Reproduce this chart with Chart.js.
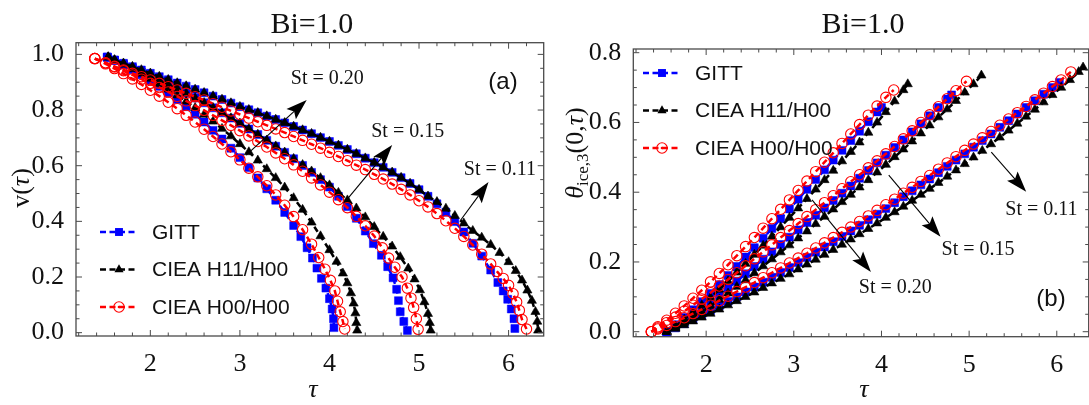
<!DOCTYPE html>
<html>
<head>
<meta charset="utf-8">
<script src="https://cdn.jsdelivr.net/npm/chart.js@4.4.1/dist/chart.umd.min.js"></script>
<style>
  html, body { margin: 0; padding: 0; background: #fff; overflow: hidden; }
  #wrap { position: relative; width: 1089px; height: 405px; overflow: hidden; }
  canvas { position: absolute; top: 0; }
  #chartA { left: 0; }
  #chartB { left: 545px; }
</style>
</head>
<body>
<div id="wrap">
  <canvas id="chartA" width="550" height="405"></canvas>
  <canvas id="chartB" width="550" height="405"></canvas>
</div>
<script>
// ---- panel (a): v(tau) ----
const a11GittTau = [1.52, 1.6, 1.7, 1.8, 1.9, 2.0, 2.1, 2.2, 2.3, 2.4, 2.5, 2.6, 2.7, 2.8, 2.9, 3.0, 3.1, 3.2, 3.3, 3.4, 3.5, 3.6, 3.7, 3.8, 3.9, 4.0, 4.1, 4.2, 4.3, 4.4, 4.5, 4.6, 4.7, 4.8, 4.9, 5.0, 5.1, 5.2, 5.3, 5.4, 5.5, 5.6, 5.7, 5.8, 5.88, 5.94, 5.99, 6.03, 6.06, 6.07];
const a11GittV = [0.990, 0.980, 0.968, 0.956, 0.944, 0.932, 0.920, 0.909, 0.897, 0.886, 0.874, 0.862, 0.850, 0.838, 0.825, 0.812, 0.801, 0.790, 0.778, 0.766, 0.754, 0.741, 0.728, 0.715, 0.701, 0.687, 0.673, 0.658, 0.643, 0.627, 0.611, 0.594, 0.576, 0.557, 0.536, 0.514, 0.490, 0.463, 0.433, 0.399, 0.362, 0.321, 0.275, 0.225, 0.180, 0.150, 0.120, 0.085, 0.050, 0.015];
const a11H11Tau = [1.53, 1.6, 1.7, 1.8, 1.9, 2.0, 2.1, 2.2, 2.3, 2.4, 2.5, 2.6, 2.7, 2.8, 2.9, 3.0, 3.1, 3.2, 3.3, 3.4, 3.5, 3.6, 3.7, 3.8, 3.9, 4.0, 4.1, 4.2, 4.3, 4.4, 4.5, 4.6, 4.7, 4.8, 4.9, 5.0, 5.1, 5.2, 5.3, 5.4, 5.5, 5.6, 5.7, 5.8, 5.9, 6.0, 6.08, 6.15, 6.21, 6.26, 6.3, 6.32, 6.33];
const a11H11V = [0.990, 0.980, 0.968, 0.956, 0.944, 0.932, 0.920, 0.909, 0.897, 0.886, 0.874, 0.862, 0.850, 0.838, 0.825, 0.812, 0.801, 0.790, 0.778, 0.766, 0.754, 0.741, 0.728, 0.715, 0.701, 0.687, 0.673, 0.658, 0.643, 0.627, 0.611, 0.594, 0.576, 0.557, 0.536, 0.514, 0.490, 0.470, 0.446, 0.420, 0.393, 0.366, 0.342, 0.316, 0.287, 0.254, 0.222, 0.188, 0.152, 0.115, 0.075, 0.040, 0.008];
const a11H00Tau = [1.38, 1.5, 1.6, 1.7, 1.8, 1.9, 2.0, 2.1, 2.2, 2.3, 2.4, 2.5, 2.6, 2.7, 2.8, 2.9, 3.0, 3.1, 3.2, 3.3, 3.4, 3.5, 3.6, 3.7, 3.8, 3.9, 4.0, 4.1, 4.2, 4.3, 4.4, 4.5, 4.6, 4.7, 4.8, 4.9, 5.0, 5.1, 5.2, 5.3, 5.4, 5.5, 5.6, 5.7, 5.8, 5.87, 5.94, 6.0, 6.05, 6.09, 6.12, 6.15, 6.2];
const a11H00V = [0.985, 0.970, 0.957, 0.944, 0.932, 0.920, 0.908, 0.896, 0.884, 0.872, 0.860, 0.848, 0.836, 0.823, 0.810, 0.797, 0.784, 0.771, 0.758, 0.745, 0.732, 0.719, 0.705, 0.691, 0.677, 0.663, 0.648, 0.633, 0.618, 0.602, 0.586, 0.569, 0.552, 0.534, 0.515, 0.495, 0.474, 0.452, 0.428, 0.402, 0.375, 0.346, 0.315, 0.282, 0.247, 0.220, 0.195, 0.170, 0.140, 0.110, 0.080, 0.047, 0.013];

const a15GittTau = [1.52, 1.6, 1.7, 1.8, 1.9, 2.0, 2.1, 2.2, 2.3, 2.4, 2.5, 2.6, 2.7, 2.8, 2.9, 3.0, 3.1, 3.2, 3.3, 3.4, 3.5, 3.6, 3.7, 3.8, 3.9, 4.0, 4.1, 4.2, 4.3, 4.4, 4.49, 4.58, 4.65, 4.71, 4.75, 4.77, 4.79, 4.83, 4.87];
const a15GittV = [0.990, 0.979, 0.965, 0.951, 0.937, 0.922, 0.907, 0.892, 0.876, 0.860, 0.843, 0.826, 0.808, 0.790, 0.771, 0.752, 0.732, 0.712, 0.691, 0.670, 0.648, 0.625, 0.601, 0.576, 0.550, 0.523, 0.490, 0.453, 0.411, 0.365, 0.320, 0.278, 0.237, 0.197, 0.156, 0.115, 0.075, 0.040, 0.008];
const a15H11Tau = [1.53, 1.6, 1.7, 1.8, 1.9, 2.0, 2.1, 2.2, 2.3, 2.4, 2.5, 2.6, 2.7, 2.8, 2.9, 3.0, 3.1, 3.2, 3.3, 3.4, 3.5, 3.6, 3.7, 3.8, 3.9, 4.0, 4.1, 4.2, 4.3, 4.4, 4.5, 4.6, 4.7, 4.79, 4.88, 4.95, 5.01, 5.06, 5.10, 5.12, 5.13];
const a15H11V = [0.990, 0.979, 0.965, 0.951, 0.937, 0.922, 0.907, 0.892, 0.876, 0.860, 0.843, 0.826, 0.808, 0.790, 0.771, 0.752, 0.732, 0.712, 0.691, 0.670, 0.648, 0.625, 0.603, 0.580, 0.556, 0.530, 0.503, 0.476, 0.447, 0.415, 0.380, 0.345, 0.310, 0.272, 0.231, 0.192, 0.153, 0.110, 0.068, 0.035, 0.008];
const a15H00Tau = [1.38, 1.5, 1.6, 1.7, 1.8, 1.9, 2.0, 2.1, 2.2, 2.3, 2.4, 2.5, 2.6, 2.7, 2.8, 2.9, 3.0, 3.1, 3.2, 3.3, 3.4, 3.5, 3.6, 3.7, 3.8, 3.9, 4.0, 4.1, 4.2, 4.3, 4.4, 4.5, 4.59, 4.66, 4.73, 4.81, 4.87, 4.91, 4.94, 4.97, 4.99];
const a15H00V = [0.985, 0.969, 0.955, 0.941, 0.926, 0.911, 0.896, 0.881, 0.865, 0.849, 0.833, 0.816, 0.799, 0.781, 0.763, 0.745, 0.726, 0.707, 0.687, 0.667, 0.646, 0.625, 0.603, 0.580, 0.556, 0.531, 0.505, 0.478, 0.449, 0.418, 0.384, 0.347, 0.305, 0.268, 0.235, 0.200, 0.160, 0.124, 0.090, 0.050, 0.012];

const a20GittTau = [1.52, 1.6, 1.7, 1.8, 1.9, 2.0, 2.1, 2.2, 2.3, 2.4, 2.5, 2.6, 2.7, 2.8, 2.9, 3.0, 3.1, 3.2, 3.3, 3.4, 3.5, 3.6, 3.68, 3.75, 3.81, 3.86, 3.91, 3.96, 4.0, 4.03, 4.045, 4.05];
const a20GittV = [0.990, 0.978, 0.962, 0.945, 0.927, 0.906, 0.885, 0.862, 0.838, 0.812, 0.785, 0.757, 0.727, 0.696, 0.663, 0.629, 0.593, 0.556, 0.517, 0.476, 0.432, 0.385, 0.345, 0.305, 0.268, 0.232, 0.195, 0.160, 0.122, 0.085, 0.050, 0.018];
const a20H11Tau = [1.53, 1.6, 1.7, 1.8, 1.9, 2.0, 2.1, 2.2, 2.3, 2.4, 2.5, 2.6, 2.7, 2.8, 2.9, 3.0, 3.1, 3.2, 3.3, 3.4, 3.5, 3.6, 3.7, 3.8, 3.9, 4.0, 4.08, 4.15, 4.2, 4.24, 4.27, 4.29, 4.3, 4.31];
const a20H11V = [0.990, 0.979, 0.964, 0.948, 0.931, 0.913, 0.894, 0.874, 0.853, 0.831, 0.808, 0.784, 0.759, 0.733, 0.706, 0.678, 0.649, 0.619, 0.588, 0.556, 0.522, 0.484, 0.442, 0.396, 0.347, 0.297, 0.255, 0.213, 0.178, 0.142, 0.105, 0.070, 0.035, 0.008];
const a20H00Tau = [1.38, 1.5, 1.6, 1.7, 1.8, 1.9, 2.0, 2.1, 2.2, 2.3, 2.4, 2.5, 2.6, 2.7, 2.8, 2.9, 3.0, 3.1, 3.2, 3.3, 3.4, 3.5, 3.6, 3.7, 3.8, 3.88, 3.95, 4.01, 4.06, 4.09, 4.12, 4.15, 4.17];
const a20H00V = [0.985, 0.966, 0.949, 0.931, 0.912, 0.892, 0.871, 0.850, 0.828, 0.805, 0.781, 0.757, 0.731, 0.705, 0.678, 0.650, 0.621, 0.591, 0.560, 0.528, 0.495, 0.458, 0.417, 0.370, 0.318, 0.270, 0.228, 0.188, 0.150, 0.113, 0.075, 0.040, 0.013];

// ---- panel (b): theta_ice,3(0,tau) ----
const b11GittTau = [1.55, 1.65, 1.75, 1.85, 1.95, 2.05, 2.15, 2.25, 2.35, 2.45, 2.55, 2.65, 2.75, 2.85, 2.95, 3.05, 3.15, 3.25, 3.35, 3.45, 3.55, 3.65, 3.75, 3.85, 3.95, 4.05, 4.15, 4.25, 4.35, 4.45, 4.55, 4.65, 4.75, 4.85, 4.95, 5.05, 5.15, 5.25, 5.35, 5.45, 5.55, 5.65, 5.75, 5.85, 5.95, 6.03];
const b11GittTheta = [0, 0.011, 0.023, 0.035, 0.048, 0.061, 0.074, 0.087, 0.100, 0.114, 0.128, 0.142, 0.156, 0.170, 0.184, 0.198, 0.213, 0.228, 0.243, 0.258, 0.273, 0.289, 0.305, 0.321, 0.337, 0.353, 0.370, 0.387, 0.404, 0.421, 0.438, 0.456, 0.474, 0.492, 0.510, 0.529, 0.548, 0.567, 0.586, 0.605, 0.624, 0.643, 0.662, 0.681, 0.700, 0.715];
const b11H11Tau = [1.55, 1.65, 1.75, 1.85, 1.95, 2.05, 2.15, 2.25, 2.35, 2.45, 2.55, 2.65, 2.75, 2.85, 2.95, 3.05, 3.15, 3.25, 3.35, 3.45, 3.55, 3.65, 3.75, 3.85, 3.95, 4.05, 4.15, 4.25, 4.35, 4.45, 4.55, 4.65, 4.75, 4.85, 4.95, 5.05, 5.15, 5.25, 5.35, 5.45, 5.55, 5.65, 5.75, 5.85, 5.95, 6.05, 6.15, 6.25, 6.30];
const b11H11Theta = [0, 0.009, 0.019, 0.030, 0.041, 0.052, 0.064, 0.076, 0.088, 0.100, 0.113, 0.126, 0.139, 0.152, 0.165, 0.179, 0.193, 0.207, 0.221, 0.235, 0.250, 0.265, 0.280, 0.295, 0.311, 0.327, 0.343, 0.359, 0.376, 0.393, 0.410, 0.427, 0.445, 0.463, 0.481, 0.500, 0.519, 0.538, 0.557, 0.577, 0.597, 0.617, 0.637, 0.658, 0.679, 0.700, 0.722, 0.745, 0.758];
const b11H00Tau = [1.375, 1.45, 1.55, 1.65, 1.75, 1.85, 1.95, 2.05, 2.15, 2.25, 2.35, 2.45, 2.55, 2.65, 2.75, 2.85, 2.95, 3.05, 3.15, 3.25, 3.35, 3.45, 3.55, 3.65, 3.75, 3.85, 3.95, 4.05, 4.15, 4.25, 4.35, 4.45, 4.55, 4.65, 4.75, 4.85, 4.95, 5.05, 5.15, 5.25, 5.35, 5.45, 5.55, 5.65, 5.75, 5.85, 5.95, 6.05, 6.16];
const b11H00Theta = [0, 0.008, 0.018, 0.029, 0.040, 0.052, 0.064, 0.076, 0.089, 0.102, 0.115, 0.128, 0.141, 0.155, 0.169, 0.183, 0.197, 0.211, 0.225, 0.240, 0.255, 0.270, 0.285, 0.300, 0.316, 0.332, 0.348, 0.364, 0.380, 0.397, 0.414, 0.431, 0.448, 0.466, 0.484, 0.502, 0.520, 0.538, 0.556, 0.574, 0.592, 0.610, 0.628, 0.646, 0.665, 0.684, 0.703, 0.722, 0.745];

const b15GittTau = [1.55, 1.65, 1.75, 1.85, 1.95, 2.05, 2.15, 2.25, 2.35, 2.45, 2.55, 2.65, 2.75, 2.85, 2.95, 3.05, 3.15, 3.25, 3.35, 3.45, 3.55, 3.65, 3.75, 3.85, 3.95, 4.05, 4.15, 4.25, 4.35, 4.45, 4.55, 4.65, 4.75, 4.80];
const b15GittTheta = [0, 0.014, 0.030, 0.047, 0.065, 0.084, 0.104, 0.124, 0.145, 0.166, 0.187, 0.208, 0.229, 0.250, 0.271, 0.292, 0.313, 0.334, 0.355, 0.376, 0.397, 0.418, 0.440, 0.462, 0.484, 0.506, 0.528, 0.550, 0.573, 0.596, 0.619, 0.643, 0.667, 0.679];
const b15H11Tau = [1.55, 1.65, 1.75, 1.85, 1.95, 2.05, 2.15, 2.25, 2.35, 2.45, 2.55, 2.65, 2.75, 2.85, 2.95, 3.05, 3.15, 3.25, 3.35, 3.45, 3.55, 3.65, 3.75, 3.85, 3.95, 4.05, 4.15, 4.25, 4.35, 4.45, 4.55, 4.65, 4.75, 4.85, 4.95, 5.05, 5.14];
const b15H11Theta = [0, 0.012, 0.026, 0.041, 0.057, 0.074, 0.092, 0.110, 0.129, 0.148, 0.168, 0.188, 0.208, 0.228, 0.248, 0.268, 0.288, 0.309, 0.330, 0.351, 0.372, 0.393, 0.414, 0.435, 0.457, 0.479, 0.501, 0.523, 0.546, 0.569, 0.592, 0.615, 0.638, 0.662, 0.686, 0.710, 0.735];
const b15H00Tau = [1.375, 1.45, 1.55, 1.65, 1.75, 1.85, 1.95, 2.05, 2.15, 2.25, 2.35, 2.45, 2.55, 2.65, 2.75, 2.85, 2.95, 3.05, 3.15, 3.25, 3.35, 3.45, 3.55, 3.65, 3.75, 3.85, 3.95, 4.05, 4.15, 4.25, 4.35, 4.45, 4.55, 4.65, 4.75, 4.85, 4.97];
const b15H00Theta = [0, 0.011, 0.026, 0.042, 0.059, 0.076, 0.094, 0.112, 0.131, 0.150, 0.169, 0.189, 0.209, 0.229, 0.249, 0.270, 0.290, 0.310, 0.330, 0.350, 0.370, 0.390, 0.410, 0.430, 0.450, 0.470, 0.490, 0.510, 0.531, 0.553, 0.576, 0.600, 0.622, 0.645, 0.668, 0.691, 0.718];

const b20GittTau = [1.55, 1.65, 1.75, 1.85, 1.95, 2.05, 2.15, 2.25, 2.35, 2.45, 2.55, 2.65, 2.75, 2.85, 2.95, 3.05, 3.15, 3.25, 3.35, 3.45, 3.55, 3.65, 3.75, 3.85, 3.95, 4.0];
const b20GittTheta = [0, 0.020, 0.041, 0.063, 0.086, 0.110, 0.135, 0.161, 0.187, 0.214, 0.241, 0.268, 0.296, 0.324, 0.352, 0.380, 0.408, 0.436, 0.464, 0.492, 0.520, 0.548, 0.575, 0.602, 0.630, 0.643];
const b20H11Tau = [1.55, 1.65, 1.75, 1.85, 1.95, 2.05, 2.15, 2.25, 2.35, 2.45, 2.55, 2.65, 2.75, 2.85, 2.95, 3.05, 3.15, 3.25, 3.35, 3.45, 3.55, 3.65, 3.75, 3.85, 3.95, 4.05, 4.15, 4.25, 4.30];
const b20H11Theta = [0, 0.016, 0.035, 0.055, 0.076, 0.098, 0.121, 0.145, 0.170, 0.195, 0.221, 0.247, 0.273, 0.300, 0.327, 0.354, 0.381, 0.408, 0.435, 0.462, 0.489, 0.516, 0.543, 0.571, 0.600, 0.630, 0.661, 0.693, 0.710];
const b20H00Tau = [1.375, 1.45, 1.55, 1.65, 1.75, 1.85, 1.95, 2.05, 2.15, 2.25, 2.35, 2.45, 2.55, 2.65, 2.75, 2.85, 2.95, 3.05, 3.15, 3.25, 3.35, 3.45, 3.55, 3.65, 3.75, 3.85, 3.95, 4.05, 4.14];
const b20H00Theta = [0, 0.014, 0.033, 0.053, 0.074, 0.096, 0.119, 0.143, 0.167, 0.192, 0.218, 0.244, 0.270, 0.297, 0.324, 0.351, 0.378, 0.405, 0.432, 0.459, 0.486, 0.513, 0.540, 0.567, 0.594, 0.621, 0.647, 0.672, 0.693];

// tick labels and annotations
const xTicks = [2, 3, 4, 5, 6];
const yTicksA = [0, 0.2, 0.4, 0.6, 0.8, 1.0];
const yTicksB = [0, 0.2, 0.4, 0.6, 0.8];
const methodLabels = ['GITT', 'CIEA H11/H00', 'CIEA H00/H00'];
const stLabels = ['St = 0.20', 'St = 0.15', 'St = 0.11'];
const aArrowTail = [[3.07, 0.638], [4.19, 0.476], [5.466, 0.405]];
const aArrowHead = [[3.746, 0.836], [4.70, 0.674], [5.776, 0.541]];
const aLabelAt = [[3.568, 0.912], [4.466, 0.721], [5.50, 0.585]];
const bArrowTail = [[3.208, 0.378], [4.083, 0.449], [5.253, 0.515]];
const bArrowHead = [[3.88, 0.171], [4.674, 0.272], [5.651, 0.401]];
const bLabelAt = [[3.742, 0.125], [4.686, 0.234], [5.413, 0.349]];

const SERIF = '"Liberation Serif", "Times New Roman", serif';
const SANS = '"Liberation Sans", Arial, sans-serif';
const BLUE = '#0000ff', RED = '#ff0000', BLACK = '#000000';

const kinds = {
  gitt: { color: BLUE, style: 'rect', r: 5.6, fill: BLUE, bw: 0.5, order: 2 },
  h11: { color: BLACK, style: 'triangle', r: 5.3, fill: BLACK, bw: 0.6, order: 1 },
  h00: { color: RED, style: 'circle', r: 5.2, fill: 'rgba(255,255,255,0)', bw: 1.1, order: 0 }
};

function series(label, kind, xs, ys) {
  const k = kinds[kind];
  return {
    label,
    data: xs.map((x, i) => ({ x, y: ys[i] })),
    borderColor: k.color,
    borderWidth: 2.5,
    borderDash: [6, 4],
    pointStyle: k.style,
    pointRadius: k.r,
    pointBackgroundColor: k.fill,
    pointBorderColor: k.color,
    pointBorderWidth: k.bw,
    order: k.order,
    tension: 0,
    fill: false,
    clip: 10
  };
}

function drawMarker(ctx, kind, x, y) {
  const k = kinds[kind];
  ctx.save();
  ctx.fillStyle = k.fill;
  ctx.strokeStyle = k.color;
  ctx.lineWidth = k.bw;
  ctx.beginPath();
  if (k.style === 'rect') {
    const s = k.r * Math.SQRT1_2;
    ctx.rect(x - s, y - s, 2 * s, 2 * s);
    ctx.fill();
  } else if (k.style === 'triangle') {
    ctx.moveTo(x, y - k.r);
    ctx.lineTo(x + k.r * 0.866, y + k.r * 0.5);
    ctx.lineTo(x - k.r * 0.866, y + k.r * 0.5);
    ctx.closePath();
    ctx.fill();
  } else {
    ctx.arc(x, y, k.r, 0, Math.PI * 2);
    ctx.stroke();
    ctx.beginPath();
    ctx.fillStyle = k.color;
    ctx.arc(x, y, 1.3, 0, Math.PI * 2);
    ctx.fill();
  }
  ctx.restore();
}

function drawArrow(ctx, x0, y0, x1, y1) {
  const ang = Math.atan2(y1 - y0, x1 - x0);
  const c = Math.cos(ang), s = Math.sin(ang);
  const L = 21, W = 7;
  const bx = x1 - L * c, by = y1 - L * s;
  ctx.beginPath();
  ctx.moveTo(x0, y0);
  ctx.lineTo(bx + 4 * c, by + 4 * s);
  ctx.stroke();
  ctx.beginPath();
  ctx.moveTo(x1, y1);
  ctx.lineTo(bx - W * s, by + W * c);
  ctx.lineTo(bx + 4 * c, by + 4 * s);
  ctx.lineTo(bx + W * s, by - W * c);
  ctx.closePath();
  ctx.fill();
}

function drawRuns(ctx, runs, cx, cy, rotate) {
  ctx.save();
  ctx.translate(cx, cy);
  if (rotate) ctx.rotate(-Math.PI / 2);
  ctx.textBaseline = 'alphabetic';
  ctx.textAlign = 'left';
  let total = 0;
  runs.forEach(r => { ctx.font = r[1]; total += ctx.measureText(r[0]).width; });
  let x = -total / 2;
  runs.forEach(r => {
    ctx.font = r[1];
    ctx.fillText(r[0], x, r[2] || 0);
    x += ctx.measureText(r[0]).width;
  });
  ctx.restore();
}

function makeDeco(cfg) {
  return {
    id: 'deco' + cfg.id,
    afterDatasetsDraw(chart) {
      const { ctx, chartArea: a, scales: { x, y } } = chart;
      ctx.save();
      // frame and inward ticks
      ctx.strokeStyle = '#4a4a4a';
      ctx.lineWidth = 1.3;
      ctx.strokeRect(a.left, a.top, a.right - a.left, a.bottom - a.top);
      ctx.lineWidth = 1;
      ctx.beginPath();
      for (let k = Math.ceil(x.min * 5); k <= Math.floor(x.max * 5); k++) {
        const px = x.getPixelForValue(k / 5);
        const len = k % 5 === 0 ? 6 : 3.5;
        ctx.moveTo(px, a.bottom); ctx.lineTo(px, a.bottom - len);
        ctx.moveTo(px, a.top); ctx.lineTo(px, a.top + len);
      }
      for (let k = Math.ceil(y.min * 20); k <= Math.floor(y.max * 20); k++) {
        const py = y.getPixelForValue(k / 20);
        const len = k % 4 === 0 ? 6 : 3.5;
        ctx.moveTo(a.left, py); ctx.lineTo(a.left + len, py);
        ctx.moveTo(a.right, py); ctx.lineTo(a.right - len, py);
      }
      ctx.stroke();

      // St arrows and labels
      ctx.strokeStyle = '#000';
      ctx.fillStyle = '#000';
      ctx.lineWidth = 1.1;
      cfg.tails.forEach((t, i) => {
        const h = cfg.heads[i];
        drawArrow(ctx, x.getPixelForValue(t[0]), y.getPixelForValue(t[1]),
          x.getPixelForValue(h[0]), y.getPixelForValue(h[1]));
      });
      ctx.font = '20px ' + SERIF;
      ctx.textAlign = 'left';
      ctx.textBaseline = 'middle';
      ctx.fillStyle = '#111';
      cfg.labels.forEach((p, i) => {
        ctx.fillText(stLabels[i], x.getPixelForValue(p[0]), y.getPixelForValue(p[1]));
      });

      // legend
      const kindsOrder = ['gitt', 'h11', 'h00'];
      kindsOrder.forEach((kind, i) => {
        const yy = cfg.legendY + i * cfg.legendGap;
        const k = kinds[kind];
        ctx.save();
        ctx.strokeStyle = k.color;
        ctx.lineWidth = 2.6;
        ctx.setLineDash([6, 3.5]);
        ctx.beginPath();
        ctx.moveTo(cfg.legendX, yy);
        ctx.lineTo(cfg.legendX + 38, yy);
        ctx.stroke();
        ctx.restore();
        drawMarker(ctx, kind, cfg.legendX + 19, yy);
        ctx.font = '21px ' + SANS;
        ctx.fillStyle = '#111';
        ctx.textAlign = 'left';
        ctx.textBaseline = 'middle';
        ctx.fillText(methodLabels[i], cfg.legendX + 52, yy + 1);
      });

      // panel tag
      ctx.font = '24px ' + SANS;
      ctx.textAlign = 'center';
      ctx.textBaseline = 'middle';
      ctx.fillStyle = '#111';
      ctx.fillText(cfg.tag, cfg.tagX, cfg.tagY);

      // title and axis titles
      const cx = (a.left + a.right) / 2 + 2;
      ctx.fillStyle = '#111';
      drawRuns(ctx, [['Bi=1.0', '30px ' + SERIF]], cx, 33, false);
      drawRuns(ctx, [['\u03C4', 'italic 26px ' + SERIF]], cx + 1, 397, false);
      drawRuns(ctx, cfg.yTitle, cfg.yTitleX, cfg.yTitleY, true);
      ctx.restore();
    }
  };
}

function scalesFor(xMin, xMax, yMin, yMax, yTicks, yWidth, xHeight) {
  const tickFont = { family: SERIF, size: 26 };
  return {
    x: {
      type: 'linear', min: xMin, max: xMax,
      afterBuildTicks: s => { s.ticks = xTicks.map(v => ({ value: v })); },
      afterFit: s => { s.height = xHeight; },
      grid: { display: false }, border: { display: false },
      ticks: { font: tickFont, color: '#111', padding: 5, maxRotation: 0, autoSkip: false, callback: v => String(v) }
    },
    y: {
      type: 'linear', min: yMin, max: yMax,
      afterBuildTicks: s => { s.ticks = yTicks.map(v => ({ value: v })); },
      afterFit: s => { s.width = yWidth; },
      grid: { display: false }, border: { display: false },
      ticks: { font: tickFont, color: '#111', padding: 4, autoSkip: false, callback: v => v.toFixed(1) }
    }
  };
}

const commonPlugins = { legend: { display: false }, tooltip: { enabled: false }, title: { display: false } };

new Chart(document.getElementById('chartA'), {
  type: 'line',
  data: {
    datasets: [
      series('GITT', 'gitt', a11GittTau, a11GittV),
      series('CIEA H11/H00', 'h11', a11H11Tau, a11H11V),
      series('CIEA H00/H00', 'h00', a11H00Tau, a11H00V),
      series('GITT', 'gitt', a15GittTau, a15GittV),
      series('CIEA H11/H00', 'h11', a15H11Tau, a15H11V),
      series('CIEA H00/H00', 'h00', a15H00Tau, a15H00V),
      series('GITT', 'gitt', a20GittTau, a20GittV),
      series('CIEA H11/H00', 'h11', a20H11Tau, a20H11V),
      series('CIEA H00/H00', 'h00', a20H00Tau, a20H00V)
    ]
  },
  options: {
    responsive: false,
    animation: false,
    events: [],
    layout: { padding: { left: 0, right: 4, top: 42.7, bottom: 0 } },
    plugins: commonPlugins,
    scales: scalesFor(1.170, 6.392, -0.012, 1.042, yTicksA, 76, 69)
  },
  plugins: [makeDeco({
    id: 'A', tails: aArrowTail, heads: aArrowHead, labels: aLabelAt,
    legendX: 100, legendY: 232, legendGap: 37.5,
    tag: '(a)', tagX: 503, tagY: 82,
    yTitle: [['v(', '26px ' + SERIF], ['\u03C4', 'italic 26px ' + SERIF], [')', '26px ' + SERIF]],
    yTitleX: 29, yTitleY: 188
  })]
});

new Chart(document.getElementById('chartB'), {
  type: 'line',
  data: {
    datasets: [
      series('GITT', 'gitt', b11GittTau, b11GittTheta),
      series('CIEA H11/H00', 'h11', b11H11Tau, b11H11Theta),
      series('CIEA H00/H00', 'h00', b11H00Tau, b11H00Theta),
      series('GITT', 'gitt', b15GittTau, b15GittTheta),
      series('CIEA H11/H00', 'h11', b15H11Tau, b15H11Theta),
      series('CIEA H00/H00', 'h00', b15H00Tau, b15H00Theta),
      series('GITT', 'gitt', b20GittTau, b20GittTheta),
      series('CIEA H11/H00', 'h11', b20H11Tau, b20H11Theta),
      series('CIEA H00/H00', 'h00', b20H00Tau, b20H00Theta)
    ]
  },
  options: {
    responsive: false,
    animation: false,
    events: [],
    layout: { padding: { left: 0, right: 3, top: 49, bottom: 0 } },
    plugins: commonPlugins,
    scales: scalesFor(1.169, 6.364, -0.0143, 0.8106, yTicksB, 88.3, 68.3)
  },
  plugins: [makeDeco({
    id: 'B', tails: bArrowTail, heads: bArrowHead, labels: bLabelAt,
    legendX: 98, legendY: 73, legendGap: 37.5,
    tag: '(b)', tagX: 506, tagY: 299,
    yTitle: [['\u03B8', 'italic 26px ' + SERIF], ['ice,3', '17px ' + SERIF, 5], ['(0,', '26px ' + SERIF], ['\u03C4', 'italic 26px ' + SERIF], [')', '26px ' + SERIF]],
    yTitleX: 38, yTitleY: 153
  })]
});
</script>
</body>
</html>
